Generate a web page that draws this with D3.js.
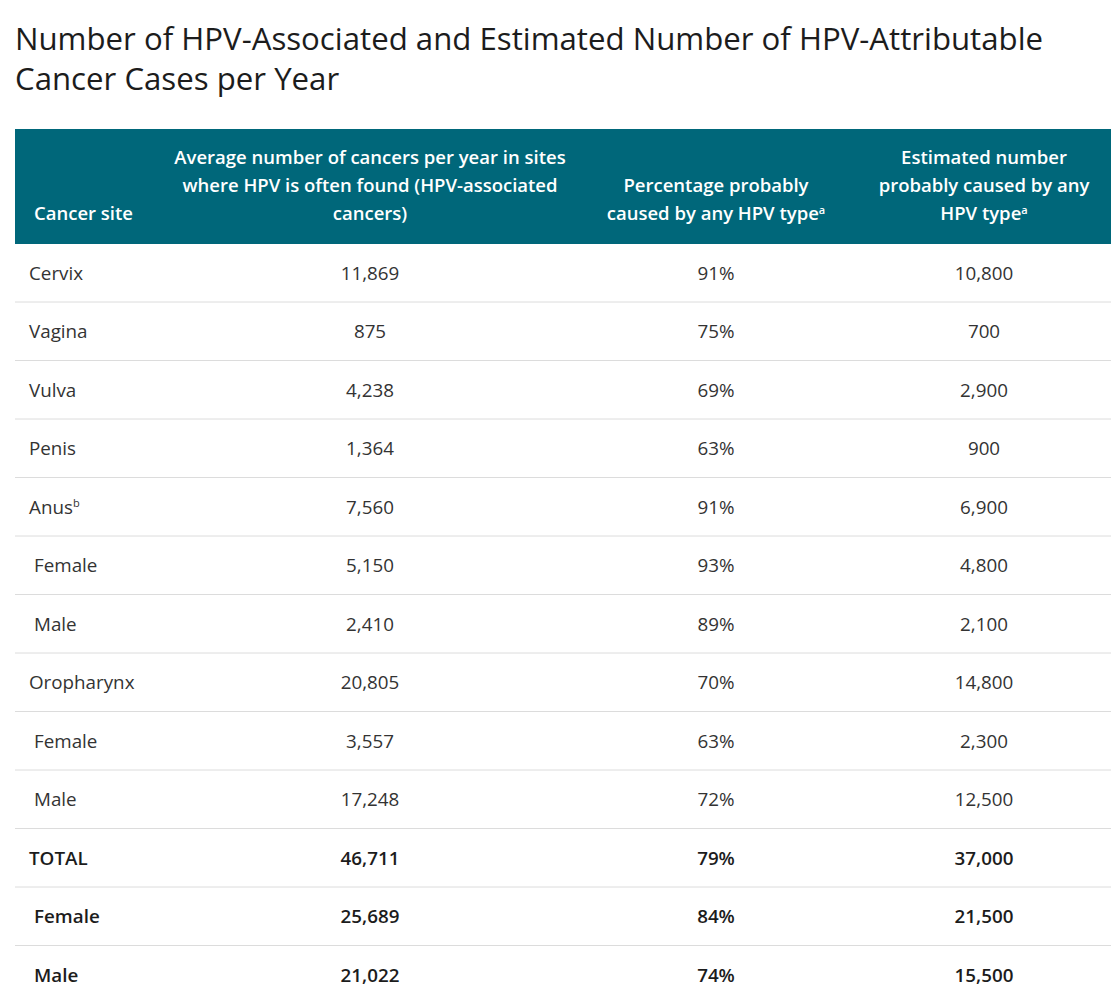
<!DOCTYPE html>
<html>
<head>
<meta charset="utf-8">
<script src="https://cdn.jsdelivr.net/npm/d3@7"></script>
<style>
  html, body { margin: 0; padding: 0; background: #fff; }
  svg { display: block; font-family: "Open Sans", "Noto Sans", sans-serif; }
</style>
</head>
<body>
<script>
// ---- data ----
const titleLines = [
  "Number of HPV-Associated and Estimated Number of HPV-Attributable",
  "Cancer Cases per Year"
];
const headerCancerSite = [["Cancer site", ""]];
const headerAssociated = [
  ["Average number of cancers per year in sites", ""],
  ["where HPV is often found (HPV-associated", ""],
  ["cancers)", ""]
];
const headerPercent = [
  ["Percentage probably", ""],
  ["caused by any HPV type", "a"]
];
const headerEstimated = [
  ["Estimated number", ""],
  ["probably caused by any", ""],
  ["HPV type", "a"]
];
const sites = ["Cervix", "Vagina", "Vulva", "Penis", "Anus", "Female", "Male",
  "Oropharynx", "Female", "Male", "TOTAL", "Female", "Male"];
const siteNotes = ["", "", "", "", "b", "", "", "", "", "", "", "", ""];
const isSubgroup = [false, false, false, false, false, true, true, false, true, true, false, true, true];
const isTotal = [false, false, false, false, false, false, false, false, false, false, true, true, true];
const associatedCases = [11869, 875, 4238, 1364, 7560, 5150, 2410, 20805, 3557, 17248, 46711, 25689, 21022];
const percentHPV = [91, 75, 69, 63, 91, 93, 89, 70, 63, 72, 79, 84, 74];
const attributableCases = [10800, 700, 2900, 900, 6900, 4800, 2100, 14800, 2300, 12500, 37000, 21500, 15500];

// ---- layout ----
const W = 1111, H = 1003;
const tableLeft = 15, tableRight = 1111;
const headerTop = 129, headerBottom = 244;
const colCenters = { assoc: 370, pct: 716, est: 984 };
const fmt = d3.format(",");

const svg = d3.select("body").append("svg").attr("width", W).attr("height", H);

// title
svg.append("g").selectAll("text").data(titleLines).join("text")
  .attr("x", 15)
  .attr("y", (d, i) => 50 + i * 40)
  .attr("font-size", 31.2)
  .attr("fill", "#1c1c1c")
  .text(d => d);

// header
svg.append("rect")
  .attr("x", tableLeft).attr("y", headerTop)
  .attr("width", tableRight - tableLeft).attr("height", headerBottom - headerTop)
  .attr("fill", "#00677a");

const headerLineY = [158, 186, 214];
function drawHeader(lines, x, anchor) {
  const offset = 3 - lines.length;
  const g = svg.append("g");
  lines.forEach((ln, i) => {
    const t = g.append("text")
      .attr("x", x)
      .attr("y", headerLineY[i + offset])
      .attr("dy", "0.35em")
      .attr("text-anchor", anchor)
      .attr("font-size", 18.5)
      .attr("font-weight", 600)
      .attr("fill", "#ffffff");
    t.append("tspan").text(ln[0]);
    if (ln[1]) t.append("tspan").attr("font-size", 11).attr("dy", "-0.6em").text(ln[1]);
  });
}
drawHeader(headerCancerSite, 34, "start");
drawHeader(headerAssociated, colCenters.assoc, "middle");
drawHeader(headerPercent, colCenters.pct, "middle");
drawHeader(headerEstimated, colCenters.est, "middle");

// rows
const rows = sites.map((s, i) => ({
  site: s, note: siteNotes[i], sub: isSubgroup[i], total: isTotal[i],
  assoc: associatedCases[i], pct: percentHPV[i], est: attributableCases[i]
}));
const y = d3.scaleBand().domain(d3.range(rows.length)).range([headerBottom, 1004.5]).padding(0);

const rowG = svg.append("g").selectAll("g").data(rows).join("g")
  .attr("transform", (d, i) => `translate(0,${y(i)})`);

// separators
rowG.filter((d, i) => i < rows.length - 1).append("line")
  .attr("x1", tableLeft).attr("x2", tableRight)
  .attr("y1", y.bandwidth() - 0.5).attr("y2", y.bandwidth() - 0.5)
  .attr("stroke", "#dcdcdc").attr("stroke-width", 1);

const cy = y.bandwidth() / 2;
const bodySize = 18.8;
function cell(sel, x, anchor, fn) {
  return sel.append("text")
    .attr("x", x).attr("y", cy).attr("dy", "0.35em")
    .attr("text-anchor", anchor)
    .attr("font-size", bodySize)
    .attr("font-weight", d => d.total ? 600 : 400)
    .attr("fill", d => d.total ? "#1c1c1c" : "#333333")
    .text(fn);
}
const siteText = rowG.append("text")
  .attr("x", d => d.sub ? 34 : 29).attr("y", cy).attr("dy", "0.35em")
  .attr("font-size", bodySize)
  .attr("font-weight", d => d.total ? 600 : 400)
  .attr("fill", d => d.total ? "#1c1c1c" : "#333333");
siteText.append("tspan").text(d => d.site);
siteText.filter(d => d.note).append("tspan").attr("font-size", 11).attr("dy", "-0.6em").text(d => d.note);

cell(rowG, colCenters.assoc, "middle", d => fmt(d.assoc));
cell(rowG, colCenters.pct, "middle", d => d.pct + "%");
cell(rowG, colCenters.est, "middle", d => fmt(d.est));
</script>
</body>
</html>
